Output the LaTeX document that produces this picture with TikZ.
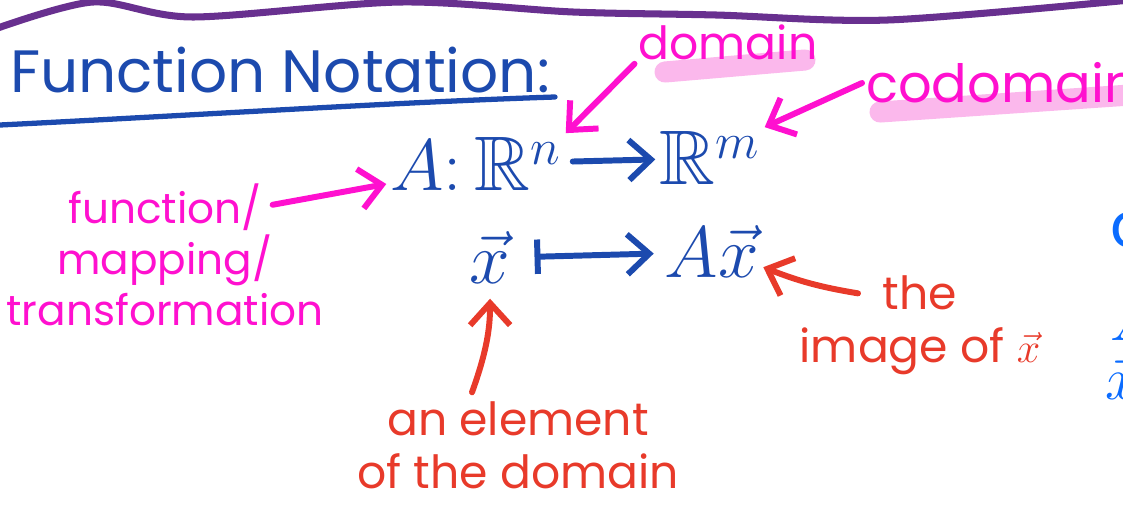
\documentclass[tikz,border=0pt]{standalone}
\usepackage{fontspec}
\usepackage{amssymb}
\setmainfont{Poppins}
\usetikzlibrary{arrows.meta,positioning,calc}
\definecolor{inkblue}{HTML}{1C4AAE}
\definecolor{inkpink}{HTML}{FF10CF}
\definecolor{hilite}{HTML}{FBB8EC}
\definecolor{inkred}{HTML}{E83A2A}
\definecolor{inkpurple}{HTML}{68308F}
\definecolor{inkcyan}{HTML}{0B6CFF}

\begin{document}
\begin{tikzpicture}[>={Straight Barb[length=2.2mm,width=4mm]},line cap=round,line join=round]
\tikzstyle{blu}=[text=inkblue,inner sep=1pt]
\tikzstyle{pnk}=[text=inkpink,inner sep=1pt,align=center]
\tikzstyle{rd}=[text=inkred,inner sep=1pt,align=center]
\tikzstyle{pa}=[->,draw=inkpink,line width=1.7pt]
\tikzstyle{ba}=[->,draw=inkblue,line width=1.7pt]
\tikzstyle{ra}=[->,draw=inkred,line width=1.7pt]
\tikzstyle{hl}=[draw=hilite,line width=6pt]
\clip (0,0) rectangle (11.23,-5.08);
% wavy border on top
\draw[inkpurple,line width=2pt] plot[smooth] coordinates {(-0.05,-0.29) (0.93,-0.02) (1.93,-0.17) (4.01,-0.02) (5.73,-0.12) (7.16,-0.15) (8.88,-0.2) (11.3,0)};
% heading
\node[blu,font=\fontsize{17}{19}\selectfont] (title) at (2.8,-0.7) {Function Notation:};
\draw[inkblue,line width=1.5pt] (0,-1.25) .. controls (2,-1.15) and (4,-1.02) .. (5.55,-0.97);
% highlighter marks
\draw[hl] (6.65,-0.72) -- (8.05,-0.6);
\draw[hl] (8.8,-1.12) -- (11.3,-0.95);
\node[pnk,font=\fontsize{13}{15}\selectfont] (dom) at (7.28,-0.42) {domain};
\node[pnk,font=\fontsize{15}{17}\selectfont,anchor=west] (cod) at (8.62,-0.83) {codomain};
% the map
\node[blu,font=\fontsize{22}{24}\selectfont] (map) at (4.76,-1.64) {$A\colon\mathbb{R}^n$};
\node[blu,font=\fontsize{22}{24}\selectfont] (img) at (7.1,-1.58) {$\mathbb{R}^m$};
\draw[ba,shorten <=2pt] (map) -- (img);
\node[blu,font=\fontsize{22}{24}\selectfont] (x) at (4.9,-2.58) {$\vec{x}$};
\node[blu,font=\fontsize{22}{24}\selectfont] (Ax) at (7.12,-2.52) {$A\vec{x}$};
\draw[ba,|->,shorten <=0.2cm,shorten >=2pt] (x) -- (Ax);
% labels
\node[pnk,font=\fontsize{12}{14.5}\selectfont] (fn) at (1.65,-2.55) {function/\\mapping/\\transformation};
\draw[pa] (fn.north east) ++(-0.55,-0.25) coordinate (fntail) -- ($(map.west)+(0,-0.2)$);
\draw[pa] (dom.south west) -- (map.north east);
\draw[pa] (cod.west) -- (img.north east);
\node[rd,font=\fontsize{13}{15}\selectfont] (imx) at (9.2,-3.25) {the\\image of $\vec{x}$};
\draw[ra] (imx.north) ++(-0.62,-0.22) coordinate (imxtail) to[bend left=6] ($(Ax.south east)+(0,0.15)$);
\node[rd,font=\fontsize{13}{15}\selectfont] (elem) at (5.18,-4.45) {an element\\of the domain};
\draw[ra,shorten >=3pt] (elem.north) ++(-0.46,0.05) coordinate (elemtail) to[bend right=10] (x.south);
% cut off at the right edge
\node[text=inkcyan,font=\fontsize{18}{20}\selectfont] (edgeC) at (11.3,-2.3) {c};
\node[text=inkcyan,font=\fontsize{18}{20}\selectfont] (edgeA) at (11.33,-3.2) {$A$};
\node[text=inkcyan,font=\fontsize{18}{20}\selectfont] (edgeX) at (11.22,-3.78) {$\vec{x}$};
\end{tikzpicture}
\end{document}
